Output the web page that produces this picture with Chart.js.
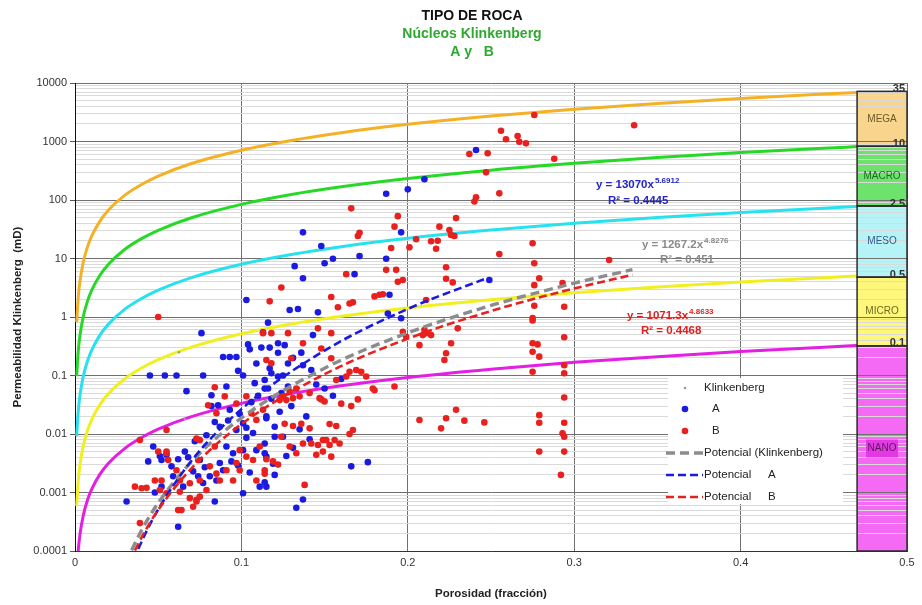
<!DOCTYPE html>
<html>
<head>
<meta charset="utf-8">
<title>Tipo de roca</title>
<script src="https://cdn.jsdelivr.net/npm/chart.js@4/dist/chart.umd.min.js"></script>
<style>
  body { margin: 0; background: #fff; }
  canvas { display: block; }
</style>
</head>
<body>
<canvas id="chart" width="922" height="605"></canvas>
<script>
const FONT = "'Liberation Sans', Arial, sans-serif"

// curvas de radio de garganta poral (R35)
const curveX = [0.001, 0.002, 0.003, 0.005, 0.0075, 0.01, 0.015, 0.02, 0.03, 0.04, 0.05, 0.07, 0.1, 0.13, 0.16, 0.2, 0.25, 0.3, 0.35, 0.4, 0.45, 0.47]
const curveMega = [0.82, 2.26, 4.1, 8.7, 15.8, 24.1, 43.6, 66.6, 121, 184, 256, 420, 709, 1042, 1414, 1963, 2724, 3561, 4467, 5437, 6461, 6888]
const curveMacro = [0.097, 0.268, 0.487, 1.03, 1.87, 2.86, 5.18, 7.91, 14.4, 21.9, 30.4, 49.8, 84.2, 124, 168, 233, 324, 423, 531, 646, 767, 818]
const curveMeso = [0.0092, 0.0254, 0.0461, 0.0976, 0.177, 0.27, 0.49, 0.748, 1.36, 2.07, 2.88, 4.72, 7.96, 11.7, 15.9, 22.1, 30.6, 40, 50.2, 61.1, 72.6, 77.4]
const curveMicro = [0.00059, 0.00164, 0.00298, 0.00632, 0.0115, 0.0175, 0.0318, 0.0485, 0.088, 0.134, 0.186, 0.305, 0.516, 0.759, 1.03, 1.43, 1.98, 2.59, 3.25, 3.96, 4.7, 5.01]
const curveNano = [0.0000385, 0.000107, 0.000193, 0.000409, 0.000743, 0.00113, 0.00206, 0.00314, 0.00569, 0.00869, 0.0121, 0.0198, 0.0334, 0.0491, 0.0666, 0.0925, 0.128, 0.168, 0.21, 0.256, 0.305, 0.325]

// nucleo A  [porosidad, permeabilidad]
const seriesA = [
  [0.241, 716], [0.210, 226], [0.200, 152], [0.187, 128], [0.137, 28], [0.148, 16.4], [0.196, 28], [0.132, 7.4],
  [0.150, 8.3], [0.155, 9.9], [0.171, 11], [0.187, 9.9], [0.137, 4.6], [0.168, 5.4], [0.103, 1.95], [0.129, 1.32],
  [0.134, 1.37], [0.146, 1.2], [0.189, 2.4], [0.249, 4.3], [0.188, 1.15], [0.196, 0.95],
  [0.076, 0.53], [0.089, 0.207], [0.093, 0.207], [0.097, 0.207], [0.113, 0.55], [0.116, 0.8], [0.104, 0.34],
  [0.105, 0.28], [0.112, 0.30], [0.117, 0.30], [0.143, 0.49],
  [0.045, 0.1], [0.054, 0.1], [0.061, 0.1], [0.077, 0.1], [0.101, 0.1], [0.067, 0.054],
  [0.031, 0.0007], [0.047, 0.0061], [0.044, 0.0034], [0.051, 0.0042], [0.062, 0.00026], [0.084, 0.0007], [0.048, 0.001],
  [0.052, 0.0036], [0.055, 0.0044], [0.062, 0.0037], [0.052, 0.00126],
  [0.068, 0.004], [0.075, 0.0036], [0.078, 0.0027], [0.071, 0.0023], [0.074, 0.0019],
  [0.082, 0.046], [0.086, 0.031], [0.093, 0.026], [0.087, 0.0133], [0.097, 0.0117], [0.101, 0.0152], [0.084, 0.016],
  [0.103, 0.0128], [0.107, 0.0104], [0.103, 0.0086], [0.101, 0.0053], [0.095, 0.0047], [0.091, 0.0061], [0.094, 0.0034],
  [0.087, 0.0032], [0.089, 0.0024], [0.085, 0.0016], [0.115, 0.0041], [0.109, 0.0053], [0.111, 0.00126], [0.115, 0.00126],
  [0.101, 0.00097], [0.077, 0.00145], [0.081, 0.0019], [0.065, 0.00126], [0.059, 0.0019],
  [0.108, 0.074], [0.114, 0.06], [0.115, 0.02],
  [0.122, 0.355], [0.126, 0.33], [0.122, 0.245], [0.136, 0.246], [0.137, 0.15], [0.142, 0.124], [0.118, 0.109],
  [0.114, 0.084], [0.116, 0.06], [0.122, 0.096], [0.125, 0.1], [0.117, 0.133], [0.160, 0.087],
  [0.123, 0.024], [0.115, 0.0186], [0.120, 0.0133], [0.120, 0.009], [0.125, 0.009], [0.114, 0.0069], [0.114, 0.0047],
  [0.120, 0.002], [0.114, 0.0015], [0.141, 0.0081], [0.166, 0.0028], [0.176, 0.0033], [0.137, 0.00076], [0.133, 0.00055],
  [0.106, 0.035], [0.110, 0.045], [0.118, 0.04], [0.124, 0.05], [0.128, 0.065], [0.130, 0.03], [0.099, 0.022],
  [0.092, 0.017], [0.079, 0.0095], [0.072, 0.0075], [0.066, 0.005], [0.058, 0.0028], [0.098, 0.0029], [0.105, 0.0022],
  [0.119, 0.0031], [0.127, 0.0042], [0.131, 0.0058], [0.135, 0.012], [0.139, 0.02], [0.128, 0.16], [0.131, 0.2],
  [0.109, 0.16], [0.098, 0.12], [0.091, 0.065], [0.082, 0.03], [0.145, 0.07], [0.150, 0.06], [0.155, 0.045]
]

// nucleo B  [porosidad, permeabilidad]
const seriesB = [
  [0.276, 2840], [0.256, 1530], [0.259, 1090], [0.266, 1240], [0.267, 990], [0.271, 930], [0.248, 630], [0.237, 610],
  [0.288, 508], [0.247, 297], [0.255, 130], [0.241, 111], [0.240, 94], [0.166, 72], [0.194, 53], [0.192, 35],
  [0.229, 49], [0.219, 35], [0.171, 27.6], [0.170, 24.3], [0.225, 30.7], [0.226, 25.2], [0.228, 24.3], [0.205, 21.3],
  [0.214, 19.7], [0.218, 20.1], [0.217, 14.7], [0.190, 15.1], [0.201, 15.5], [0.275, 18.2], [0.255, 11.9], [0.276, 8.3],
  [0.223, 7.1], [0.163, 5.4], [0.187, 6.4], [0.193, 6.4], [0.194, 4.0], [0.197, 4.3], [0.223, 4.5], [0.227, 3.9],
  [0.279, 4.6], [0.276, 3.5], [0.293, 3.8], [0.124, 3.2], [0.117, 1.85], [0.154, 2.2], [0.180, 2.25], [0.183, 2.4],
  [0.185, 2.45], [0.167, 1.78], [0.158, 1.47], [0.276, 1.56], [0.294, 1.5], [0.211, 1.95], [0.275, 0.96],
  [0.336, 1900], [0.321, 9.4],
  [0.050, 1.0], [0.039, 0.0079], [0.055, 0.0117], [0.055, 0.0047], [0.036, 0.00126], [0.040, 0.00118], [0.039, 0.0003],
  [0.062, 0.0005], [0.064, 0.0005], [0.073, 0.0007], [0.138, 0.00135],
  [0.084, 0.063], [0.090, 0.044], [0.080, 0.031], [0.085, 0.0226], [0.075, 0.0079], [0.073, 0.0084], [0.084, 0.0061],
  [0.074, 0.0036], [0.081, 0.0028], [0.085, 0.0021], [0.075, 0.0016], [0.069, 0.00144], [0.063, 0.0016], [0.061, 0.0024],
  [0.052, 0.0016], [0.050, 0.005], [0.055, 0.005], [0.056, 0.0036], [0.043, 0.0012], [0.051, 0.0011], [0.055, 0.00097],
  [0.063, 0.00103], [0.069, 0.0008], [0.073, 0.00075], [0.071, 0.00057], [0.048, 0.0016],
  [0.097, 0.033], [0.103, 0.044], [0.106, 0.0226], [0.109, 0.0173], [0.113, 0.026], [0.097, 0.0032], [0.099, 0.0053],
  [0.103, 0.0041], [0.107, 0.0036], [0.111, 0.0061], [0.114, 0.0024], [0.109, 0.0016], [0.095, 0.0016], [0.099, 0.0024],
  [0.091, 0.0024], [0.087, 0.0016], [0.079, 0.0011], [0.075, 0.00085],
  [0.165, 1.7], [0.113, 0.53], [0.118, 0.53], [0.128, 0.53], [0.137, 0.355], [0.154, 0.53], [0.146, 0.64], [0.148, 0.29],
  [0.154, 0.197], [0.118, 0.162], [0.115, 0.184], [0.130, 0.197],
  [0.125, 0.044], [0.129, 0.053], [0.133, 0.06], [0.123, 0.038], [0.127, 0.038], [0.131, 0.041], [0.135, 0.044],
  [0.141, 0.05], [0.147, 0.041], [0.150, 0.036], [0.157, 0.084], [0.163, 0.096], [0.165, 0.116], [0.169, 0.124],
  [0.172, 0.116], [0.175, 0.096], [0.179, 0.06], [0.180, 0.056], [0.192, 0.065],
  [0.148, 0.039], [0.160, 0.033], [0.166, 0.03], [0.170, 0.039],
  [0.126, 0.015], [0.131, 0.0137], [0.136, 0.015], [0.141, 0.0125], [0.153, 0.0148], [0.157, 0.0137], [0.165, 0.01],
  [0.167, 0.0117], [0.124, 0.009], [0.129, 0.0061], [0.133, 0.0047], [0.137, 0.0069], [0.142, 0.0069], [0.146, 0.0065],
  [0.149, 0.0079], [0.151, 0.0079], [0.153, 0.0065], [0.156, 0.0079], [0.159, 0.0069], [0.154, 0.0041], [0.145, 0.0044],
  [0.149, 0.005], [0.115, 0.0037], [0.119, 0.0034], [0.122, 0.003], [0.114, 0.0021],
  [0.207, 0.0173], [0.220, 0.0125], [0.223, 0.0186], [0.229, 0.026], [0.234, 0.0169], [0.246, 0.0158],
  [0.197, 0.56], [0.199, 0.46], [0.207, 0.33], [0.209, 0.49], [0.214, 0.49], [0.222, 0.184], [0.223, 0.24],
  [0.226, 0.355], [0.211, 0.53], [0.230, 0.64], [0.210, 0.6],
  [0.275, 0.87], [0.275, 0.355], [0.278, 0.34], [0.279, 0.21], [0.275, 0.255], [0.275, 0.116], [0.279, 0.021],
  [0.279, 0.0156], [0.279, 0.005], [0.294, 0.45], [0.294, 0.15], [0.294, 0.109], [0.294, 0.042], [0.294, 0.0156],
  [0.293, 0.0103], [0.294, 0.009], [0.294, 0.005], [0.292, 0.002]
]

// Klinkenberg (marcas pequeñas grises)
const seriesK = [[0.0625, 0.25], [0.066, 0.018], [0.04, 0.0079]]

// lineas de tendencia potencial
const trendKx = [0.034, 0.04, 0.045, 0.05, 0.07, 0.1, 0.15, 0.2, 0.25, 0.3, 0.335]
const trendKy = [0.000103, 0.000226, 0.000399, 0.000664, 0.00336, 0.0188, 0.1335, 0.536, 1.574, 3.79, 6.45]
const trendAx = [0.038, 0.043, 0.05, 0.07, 0.1, 0.15, 0.2, 0.248]
const trendAy = [0.000108, 0.000218, 0.000515, 0.00349, 0.0266, 0.267, 1.375, 4.67]
const trendBx = [0.036, 0.042, 0.05, 0.07, 0.1, 0.15, 0.2, 0.25, 0.3, 0.335]
const trendBy = [0.000102, 0.000216, 0.000505, 0.00259, 0.0147, 0.1054, 0.427, 1.266, 3.07, 5.25]

const yTickLabels = ['0.0001', '0.001', '0.01', '0.1', '1', '10', '100', '1000', '10000']
const xTickLabels = ['0', '0.1', '0.2', '0.3', '0.4', '0.5']

// tipos de roca a la derecha
const bandNames = ['MEGA', 'MACRO', 'MESO', 'MICRO', 'NANO']
const bandR35 = ['35', '10', '2.5', '0.5', '0.1']
const bandTop = [7200, 830, 79, 4.8, 0.32]
const bandFrom = 0.47

const eqMain = ['y = 13070x', 'y = 1267.2x', 'y = 1071.3x']
const eqExp = ['5.6912', '4.8276', '4.8633']
const eqR2 = ['R² = 0.4445', 'R² = 0.451', 'R² = 0.4468']

const titleLines = ['TIPO DE ROCA', 'Núcleos Klinkenberg', 'A y   B']

const pairs = arr => arr.map(([x, y]) => ({ x, y }))
const zip = (xs, ys) => xs.map((x, i) => ({ x, y: ys[i] }))
const isDecade = v => Math.abs(Math.log10(v) - Math.round(Math.log10(v))) < 1e-6

const curveColors = ['#f4b126', '#27d927', '#27e2ee', '#f2ef20', '#e21fe2']
const curveSets = [curveMega, curveMacro, curveMeso, curveMicro, curveNano]
const bandFill = ['#f9d48c', '#6de36d', '#b6f3f7', '#fff67c', '#f46af4']
const bandText = ['#6b5a2a', '#1f6b1f', '#2f5a8a', '#6e6a1a', '#5a1a5a']

const datasets = [
  { label: 'Klinkenberg', data: pairs(seriesK), backgroundColor: '#9a9a9a', borderWidth: 0, pointRadius: 1.3, order: 2.6 },
  { label: 'A', data: pairs(seriesA), backgroundColor: '#1a1ae0', borderWidth: 0, pointRadius: 3.3, order: 2.5 },
  { label: 'B', data: pairs(seriesB), backgroundColor: '#e8201e', borderWidth: 0, pointRadius: 3.3, order: 2 },
  { label: 'Potencial (Klinkenberg)', data: zip(trendKx, trendKy), showLine: true, borderColor: '#8c8c8c', borderWidth: 3.4, borderDash: [9, 5], pointRadius: 0, cubicInterpolationMode: 'monotone', order: 1.2 },
  { label: 'Potencial   A', data: zip(trendAx, trendAy), showLine: true, borderColor: '#1a1ae0', borderWidth: 2.6, borderDash: [8, 4], pointRadius: 0, cubicInterpolationMode: 'monotone', order: 1.1 },
  { label: 'Potencial   B', data: zip(trendBx, trendBy), showLine: true, borderColor: '#e8201e', borderWidth: 2.6, borderDash: [8, 4], pointRadius: 0, cubicInterpolationMode: 'monotone', order: 1 }
]
curveSets.forEach((c, i) => {
  datasets.push({
    label: 'R35 ' + bandR35[i], data: zip(curveX, c), showLine: true, borderColor: curveColors[i],
    borderWidth: 3, pointRadius: 0, cubicInterpolationMode: 'monotone', order: 3
  })
})

// bandas de tipo de roca, titulos, ecuaciones y leyenda
const decor = {
  id: 'decor',
  beforeDraw(chart) {
    const { ctx, scales: { x, y } } = chart
    const x0 = x.getPixelForValue(bandFrom), x1 = x.getPixelForValue(0.5)
    ctx.save()
    bandNames.forEach((n, i) => {
      const t = y.getPixelForValue(bandTop[i])
      const b = i < bandTop.length - 1 ? y.getPixelForValue(bandTop[i + 1]) : y.bottom
      ctx.fillStyle = bandFill[i]
      ctx.fillRect(x0, t, x1 - x0, b - t)
    })
    ctx.restore()
  },
  afterDraw(chart) {
    const { ctx, scales: { x, y } } = chart
    const x0 = x.getPixelForValue(bandFrom), x1 = x.getPixelForValue(0.5)
    ctx.save()
    // bordes y rotulos de bandas
    ctx.strokeStyle = '#2b2b2b'
    ctx.lineWidth = 1.5
    bandNames.forEach((n, i) => {
      const t = y.getPixelForValue(bandTop[i])
      const b = i < bandTop.length - 1 ? y.getPixelForValue(bandTop[i + 1]) : y.bottom
      ctx.strokeRect(x0, t, x1 - x0, b - t)
      ctx.font = '10px ' + FONT
      ctx.textAlign = 'center'
      ctx.textBaseline = 'middle'
      const cx = (x0 + x1) / 2, cy = (t + b) / 2
      if (n === 'NANO') {
        ctx.fillStyle = '#e23ae2'
        ctx.fillRect(cx - 16, cy - 9, 32, 18)
      }
      ctx.fillStyle = bandText[i]
      ctx.fillText(n, cx, cy)
      ctx.font = 'bold 11px ' + FONT
      ctx.textAlign = 'right'
      ctx.textBaseline = 'bottom'
      ctx.fillStyle = '#333'
      ctx.fillText(bandR35[i], x1 - 2, t + 3)
    })

    // titulo
    ctx.textAlign = 'center'
    ctx.textBaseline = 'middle'
    ctx.font = 'bold 14px ' + FONT
    const titleY = [16, 34, 52]
    titleLines.forEach((s, i) => {
      ctx.fillStyle = i === 0 ? '#111' : '#2fa82f'
      ctx.fillText(s, 472, titleY[i])
    })

    // ecuaciones de tendencia
    const eqColor = ['#2424cc', '#8a8a8a', '#e02020']
    const eqPos = [[596, 185, 608, 201], [642, 245, 660, 260], [627, 316, 641, 331]]
    eqMain.forEach((s, i) => {
      const [ex, ey, rx, ry] = eqPos[i]
      ctx.fillStyle = eqColor[i]
      ctx.textAlign = 'left'
      ctx.font = 'bold 11.5px ' + FONT
      ctx.fillText(s, ex, ey)
      const w = ctx.measureText(s).width
      ctx.font = 'bold 8px ' + FONT
      ctx.fillText(eqExp[i], ex + w + 1, ey - 4)
      ctx.font = 'bold 11.5px ' + FONT
      ctx.fillText(eqR2[i], rx, ry)
    })

    // leyenda
    ctx.fillStyle = '#fff'
    ctx.fillRect(668, 378, 175, 126)
    const rowY = [388, 409, 431, 453, 475, 497]
    ctx.font = '11.5px ' + FONT
    ctx.textBaseline = 'middle'
    datasets.slice(0, 6).forEach((d, i) => {
      const yy = rowY[i]
      ctx.fillStyle = d.backgroundColor || d.borderColor
      if (i < 3) {
        ctx.beginPath()
        ctx.arc(685, yy, i === 0 ? 1.3 : 3.3, 0, Math.PI * 2)
        ctx.fill()
      } else {
        ctx.strokeStyle = d.borderColor
        ctx.lineWidth = d.borderWidth
        ctx.setLineDash(d.borderDash)
        ctx.beginPath()
        ctx.moveTo(666, yy)
        ctx.lineTo(703, yy)
        ctx.stroke()
        ctx.setLineDash([])
      }
      ctx.fillStyle = '#222'
      ctx.textAlign = 'left'
      const parts = d.label.split(/\s{2,}/)
      if (parts.length > 1) {
        ctx.fillText(parts[0], 704, yy)
        ctx.fillText(parts[1], 768, yy)
      } else {
        ctx.fillText(d.label, d.label.length === 1 ? 712 : 704, yy)
      }
    })
    ctx.restore()
  }
}

new Chart(document.getElementById('chart'), {
  type: 'scatter',
  data: { datasets },
  options: {
    responsive: false,
    animation: false,
    layout: { padding: { top: 83, left: 10, right: 15, bottom: 0 } },
    plugins: { legend: { display: false }, tooltip: { enabled: false }, title: { display: false } },
    scales: {
      x: {
        type: 'linear', min: 0, max: 0.5,
        afterBuildTicks: s => { s.ticks = xTickLabels.map(v => ({ value: +v })) },
        afterFit: s => { s.height = 54 },
        ticks: { callback: (v, i) => xTickLabels[i], font: { family: FONT, size: 11 }, color: '#333', padding: 5 },
        grid: { color: c => (c.tick && c.tick.value === 0 ? '#000' : '#707070'), drawTicks: false },
        border: { color: '#333' },
        title: { display: true, text: 'Porosidad (fracción)', color: '#222', font: { family: FONT, size: 11.5, weight: 'bold' }, padding: { top: 4, bottom: 4 } }
      },
      y: {
        type: 'logarithmic', min: 0.0001, max: 10000,
        afterBuildTicks: s => {
          const t = []
          for (let e = -4; e < 4; e++) for (let m = 1; m < 10; m++) t.push({ value: m * Math.pow(10, e) })
          t.push({ value: 10000 })
          s.ticks = t
        },
        afterFit: s => { s.width = 65 },
        ticks: {
          autoSkip: false, padding: 3, color: '#333', font: { family: FONT, size: 11 },
          callback: v => (isDecade(v) ? yTickLabels[Math.round(Math.log10(v)) + 4] : '')
        },
        grid: {
          color: c => (c.tick && isDecade(c.tick.value) ? '#707070' : '#dadada'),
          tickColor: c => (c.tick && isDecade(c.tick.value) ? '#555' : 'rgba(0,0,0,0)'),
          tickLength: 5
        },
        border: { color: '#111' },
        title: { display: true, text: 'Permeabilidad Klinkenberg  (mD)', color: '#222', font: { family: FONT, size: 11.5, weight: 'bold' }, padding: { top: 1, bottom: 0 } }
      }
    }
  },
  plugins: [decor]
})
</script>
</body>
</html>
